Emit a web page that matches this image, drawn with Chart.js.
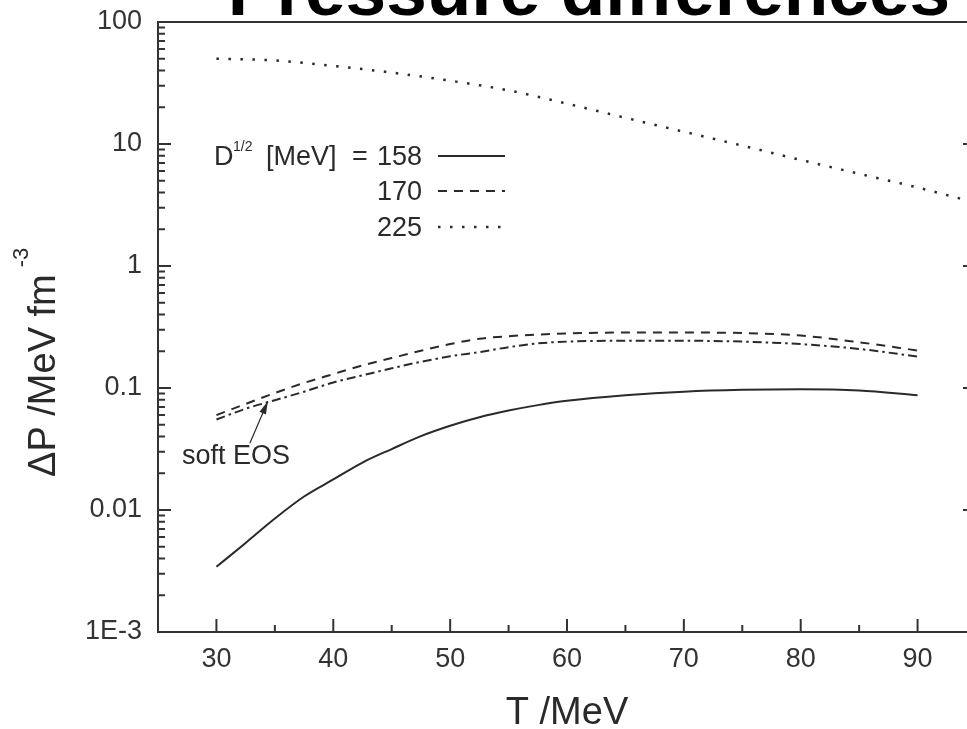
<!DOCTYPE html>
<html>
<head>
<meta charset="utf-8">
<script src="https://cdn.jsdelivr.net/npm/chart.js@4.4.1/dist/chart.umd.min.js"></script>
<style>
  html, body { margin: 0; padding: 0; background: #fff; overflow: hidden; }
  #wrap { width: 990px; height: 729px; position: relative; }
</style>
</head>
<body>
<div id="wrap"><canvas id="presion"></canvas></div>
<script>
// Temperatura T (MeV) para las curvas 158, 170 y soft EOS
const temperaturas = [30, 32.5, 35, 37.5, 40, 42.5, 45, 47.5, 50, 52.5, 55, 57.5, 60, 65, 70, 75, 80, 85, 90];
// Diferencia de presion (MeV fm^-3)
const dp158 = [0.00342, 0.00537, 0.00851, 0.0129, 0.0178, 0.0245, 0.0316, 0.0403, 0.049, 0.0575, 0.0653, 0.0724, 0.0785, 0.0871, 0.0933, 0.0966, 0.0977, 0.0955, 0.0871];
const dp170 = [0.06, 0.074, 0.091, 0.11, 0.13, 0.153, 0.176, 0.202, 0.229, 0.253, 0.266, 0.274, 0.28, 0.285, 0.285, 0.282, 0.269, 0.237, 0.203];
const dpSoft = [0.0552, 0.0676, 0.0794, 0.0933, 0.111, 0.127, 0.145, 0.164, 0.182, 0.197, 0.216, 0.232, 0.24, 0.244, 0.244, 0.24, 0.229, 0.209, 0.181];
// La curva de 225 MeV sigue hasta el borde derecho
const temperaturas225 = [30, 35, 40, 45, 50, 55, 60, 65, 70, 75, 80, 85, 90, 95];
const dp225 = [50, 48.4, 43.6, 38.5, 33, 27.5, 21.4, 16.4, 12.6, 9.7, 7.4, 5.7, 4.4, 3.3];

const valoresLeyenda = ["158", "170", "225"];
const ticksX = [30, 40, 50, 60, 70, 80, 90];
const ticksY = [0.001, 0.01, 0.1, 1, 10, 100];
const etiquetasY = ["1E-3", "0.01", "0.1", "1", "10", "100"];

const fuente = "'Liberation Sans', Arial, sans-serif";
const tinta = "#2a2a2a";

const puntos = (xs, ys) => xs.map((t, i) => ({ x: t, y: ys[i] }));

// marco completo y ticks hacia adentro
const marco = {
  id: "marco",
  afterDraw(chart) {
    const { ctx, chartArea: a, scales: { x, y } } = chart;
    ctx.save();
    ctx.strokeStyle = "#333";
    ctx.lineWidth = 2;
    ctx.strokeRect(a.left, a.top, a.right - a.left, a.bottom - a.top);
    ctx.beginPath();
    for (let e = -3; e <= 1; e++) {
      for (let m = 1; m <= 9; m++) {
        const py = y.getPixelForValue(m * Math.pow(10, e));
        const len = m === 1 ? 13 : 7;
        ctx.moveTo(a.left, py); ctx.lineTo(a.left + len, py);
        ctx.moveTo(a.right, py); ctx.lineTo(a.right - len, py);
      }
    }
    for (let t = 30; t <= 90; t += 5) {
      const px = x.getPixelForValue(t);
      const len = t % 10 === 0 ? 13 : 7;
      ctx.moveTo(px, a.bottom); ctx.lineTo(px, a.bottom - len);
    }
    ctx.stroke();
    ctx.restore();
  }
};

// titulo grande, cortado por arriba
const titulo = {
  id: "titulo",
  afterDraw(chart) {
    const ctx = chart.ctx;
    ctx.save();
    ctx.fillStyle = "#000";
    ctx.font = "bold 73px " + fuente;
    ctx.textAlign = "center";
    ctx.textBaseline = "alphabetic";
    ctx.fillText("Pressure differences", 589, 15);
    ctx.restore();
  }
};

// titulo del eje y con exponente
const tituloY = {
  id: "tituloY",
  afterDraw(chart) {
    const ctx = chart.ctx;
    const texto = "\u0394P /MeV fm";
    ctx.save();
    ctx.translate(55, 477);
    ctx.rotate(-Math.PI / 2);
    ctx.fillStyle = tinta;
    ctx.font = "38px " + fuente;
    ctx.fillText(texto, 0, 0);
    const w = ctx.measureText(texto).width;
    ctx.font = "22px " + fuente;
    ctx.fillText("-3", w + 7, -27);
    ctx.restore();
  }
};

// leyenda: valor de D^1/2 a la izquierda y muestra de linea a la derecha
const leyenda = {
  id: "leyenda",
  afterDraw(chart) {
    const ctx = chart.ctx;
    const filas = [156, 191, 227];
    ctx.save();
    ctx.fillStyle = tinta;
    ctx.font = "27px " + fuente;
    ctx.textBaseline = "alphabetic";
    ctx.fillText("D", 214, filas[0] + 9);
    ctx.fillText("[MeV]", 266, filas[0] + 9);
    ctx.textAlign = "center";
    ctx.fillText("=", 360, filas[0] + 9);
    ctx.textAlign = "left";
    ctx.font = "14px " + fuente;
    ctx.fillText("1/2", 233, filas[0] - 5);
    ctx.font = "27px " + fuente;
    ctx.textAlign = "right";
    valoresLeyenda.forEach((v, i) => {
      ctx.fillText(v, 422, filas[i] + 9);
      const ds = chart.data.datasets[i];
      ctx.save();
      ctx.strokeStyle = ds.borderColor;
      ctx.lineWidth = ds.borderWidth;
      ctx.setLineDash(ds.borderDash || []);
      ctx.beginPath();
      ctx.moveTo(438, filas[i]);
      ctx.lineTo(505, filas[i]);
      ctx.stroke();
      ctx.restore();
    });
    ctx.restore();
  }
};

// etiqueta "soft EOS" con flecha hacia la curva punto-raya
const anotacion = {
  id: "anotacion",
  afterDraw(chart) {
    const { ctx, scales: { x, y } } = chart;
    const px = x.getPixelForValue(34.4);
    const py = y.getPixelForValue(0.078);
    const qx = px - 18, qy = py + 42;
    const ang = Math.atan2(py - qy, px - qx);
    ctx.save();
    ctx.strokeStyle = tinta;
    ctx.fillStyle = tinta;
    ctx.lineWidth = 1.2;
    ctx.beginPath();
    ctx.moveTo(qx, qy);
    ctx.lineTo(px, py);
    ctx.stroke();
    ctx.beginPath();
    ctx.moveTo(px, py);
    ctx.lineTo(px - 13 * Math.cos(ang) + 3.5 * Math.sin(ang), py - 13 * Math.sin(ang) - 3.5 * Math.cos(ang));
    ctx.lineTo(px - 13 * Math.cos(ang) - 3.5 * Math.sin(ang), py - 13 * Math.sin(ang) + 3.5 * Math.cos(ang));
    ctx.closePath();
    ctx.fill();
    ctx.font = "27px " + fuente;
    ctx.fillText("soft EOS", 182, 464);
    ctx.restore();
  }
};

new Chart(document.getElementById("presion"), {
  type: "line",
  data: {
    datasets: [
      {
        label: "158",
        data: puntos(temperaturas, dp158),
        borderColor: tinta,
        borderWidth: 2,
      },
      {
        label: "170",
        data: puntos(temperaturas, dp170),
        borderColor: tinta,
        borderWidth: 2,
        borderDash: [9, 7],
      },
      {
        label: "225",
        data: puntos(temperaturas225, dp225),
        borderColor: tinta,
        borderWidth: 2.5,
        borderDash: [2.5, 9.5],
      },
      {
        label: "soft EOS",
        data: puntos(temperaturas, dpSoft),
        borderColor: tinta,
        borderWidth: 2,
        borderDash: [9, 4, 2.5, 4],
      },
    ],
  },
  options: {
    responsive: true,
    maintainAspectRatio: false,
    animation: false,
    layout: { padding: { top: 22, right: 14, left: 0, bottom: 0 } },
    elements: {
      point: { radius: 0 },
      line: { cubicInterpolationMode: "monotone", fill: false },
    },
    scales: {
      x: {
        type: "linear",
        min: 25,
        max: 95,
        afterBuildTicks: (s) => { s.ticks = ticksX.map((v) => ({ value: v })); },
        afterFit: (s) => { s.height = 97; s.paddingLeft = 0; s.paddingRight = 0; },
        grid: { display: false },
        border: { display: false },
        ticks: { font: { family: fuente, size: 27 }, color: "#333", padding: 3 },
        title: {
          display: true,
          text: "T /MeV",
          font: { family: fuente, size: 38, lineHeight: 1 },
          color: tinta,
          padding: { top: 0, bottom: -4 },
        },
      },
      y: {
        type: "logarithmic",
        min: 0.001,
        max: 100,
        afterBuildTicks: (s) => { s.ticks = ticksY.map((v) => ({ value: v })); },
        afterFit: (s) => { s.width = 158; s.paddingTop = 0; s.paddingBottom = 0; },
        grid: { display: false },
        border: { display: false },
        ticks: {
          font: { family: fuente, size: 27 },
          color: "#333",
          padding: 8,
          callback: (v, i) => etiquetasY[i],
        },
      },
    },
    plugins: {
      legend: { display: false },
      tooltip: { enabled: false },
    },
  },
  plugins: [marco, titulo, tituloY, leyenda, anotacion],
});
</script>
</body>
</html>
